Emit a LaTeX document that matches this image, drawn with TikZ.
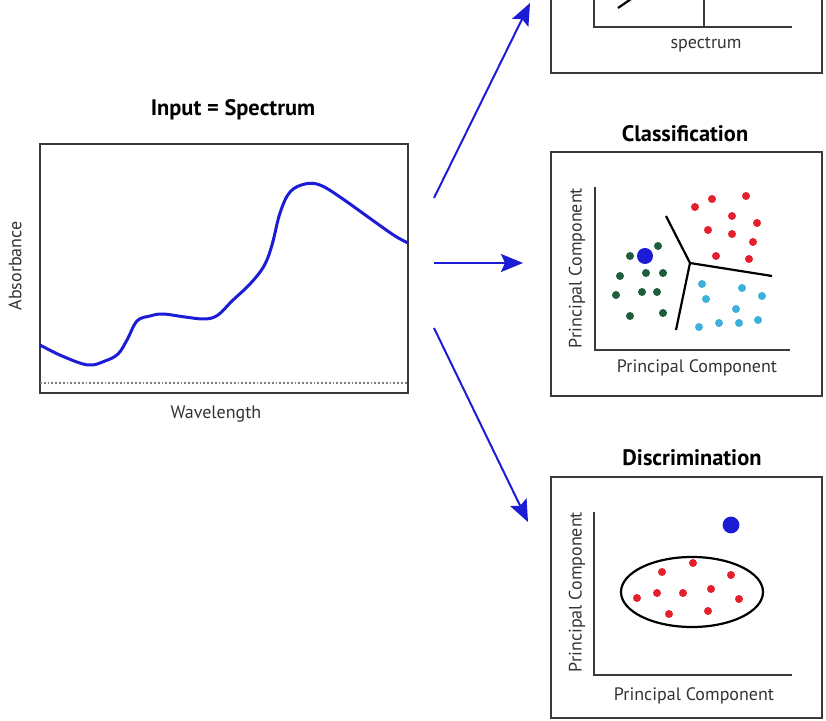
\documentclass[tikz,border=0pt]{standalone}
\usepackage{fontspec}
\setmainfont{PT Sans}
\usepackage{tikz}
\usetikzlibrary{arrows.meta}
\definecolor{specblue}{HTML}{1C1CD6}
\definecolor{dotred}{HTML}{E3202B}
\definecolor{dotgreen}{HTML}{1F5E3A}
\definecolor{dotcyan}{HTML}{3DB1DA}
\definecolor{framegray}{HTML}{3A3A3A}
\tikzstyle{panel} = [draw=framegray, line width=0.9pt]
\tikzstyle{axis} = [draw=framegray, line width=0.9pt]
\tikzstyle{title} = [font=\fontsize{11.2}{13}\selectfont\bfseries, text=black]
\tikzstyle{axislabel} = [font=\fontsize{9}{10.5}\selectfont, text=black!80]
\tikzstyle{arrow} = [specblue, line width=1pt, -{Stealth[length=11pt,width=9pt,inset=2pt]}]
\tikzstyle{border} = [black, line width=1.1pt]

\begin{document}
\begin{tikzpicture}[x=0.5pt,y=-0.5pt]
            \useasboundingbox (0,0) rectangle (826,721);
            % input spectrum
            \node [title] at (233,110) (intitle) {Input = Spectrum};
            \draw [panel] (40,144) rectangle (408,393);
            \draw [gray, densely dotted, line width=0.9pt] (40,383) -- (408,383);
            \draw [specblue, line width=1.5pt] plot [smooth, tension=0.6] coordinates {
              (40,345) (62,356) (88,365) (105,361) (118,354) (127,340) (137,321)
              (150,316) (163,314) (185,317) (205,319) (218,315) (232,301) (250,284)
              (264,266) (272,245) (280,213) (290,192) (305,184) (320,185) (340,197)
              (375,222) (395,236) (408,243)};
            \node [axislabel, rotate=90] at (15,266) (absorb) {Absorbance};
            \node [axislabel] at (216,414) (wave) {Wavelength};

            % arrows
            \coordinate (t1) at (434,198);
            \coordinate (h1) at (530,3);
            \coordinate (t2) at (434,263);
            \coordinate (h2) at (523,263);
            \coordinate (t3) at (434,328);
            \coordinate (h3) at (528,522);
            \draw [arrow] (t1) -- (h1);
            \draw [arrow] (t2) -- (h2);
            \draw [arrow] (t3) -- (h3);

            % top panel (cut off)
            \draw [panel] (551,-40) rectangle (822,73);
            \draw [axis] (594,-40) -- (594,27) -- (792,27);
            \draw [axis] (704,-40) -- (704,27);
            \draw [border] (618,8) -- (634,-3);
            \node [axislabel] at (706,45) (spec) {spectrum};

            % classification
            \node [title] at (685,134) (cltitle) {Classification};
            \draw [panel] (551,152) rectangle (822,396);
            \draw [axis] (595,187) -- (595,350) -- (790,350);
            \node [axislabel, rotate=90] at (577,268) (clpcy) {Principal Component};
            \node [axislabel] at (697,368) (clpcx) {Principal Component};
            \coordinate (mid) at (690,263);
            \draw [border] (666,216) -- (mid) -- (772,276);
            \draw [border] (mid) -- (676,330);
            \foreach \p in {(695,207),(712,199),(746,196),(732,216),(757,223),(708,230),(732,234),(753,242),(716,256),(749,259)}
              \fill [dotred] \p circle [radius=2pt];
            \foreach \p in {(658,246),(630,256),(620,276),(646,273),(663,273),(616,295),(642,292),(657,292),(630,316),(663,313)}
              \fill [dotgreen] \p circle [radius=2pt];
            \foreach \p in {(702,284),(742,288),(762,296),(706,299),(736,309),(699,327),(719,323),(739,323),(758,320)}
              \fill [dotcyan] \p circle [radius=2pt];
            \fill [specblue] (645,256) circle [radius=4pt];

            % discrimination
            \node [title] at (692,458) (dititle) {Discrimination};
            \draw [panel] (551,477) rectangle (822,718);
            \draw [axis] (594,512) -- (594,675) -- (792,675);
            \node [axislabel, rotate=90] at (577,592) (dipcy) {Principal Component};
            \node [axislabel] at (694,696) (dipcx) {Principal Component};
            \draw [border] (692,592) ellipse [x radius=35.5pt, y radius=17.5pt];
            \foreach \p in {(693,563),(662,572),(731,575),(637,598),(657,593),(683,593),(711,589),(739,599),(669,614),(708,611)}
              \fill [dotred] \p circle [radius=2pt];
            \fill [specblue] (731,525) circle [radius=4.2pt];
            \end{tikzpicture}
\end{document}
